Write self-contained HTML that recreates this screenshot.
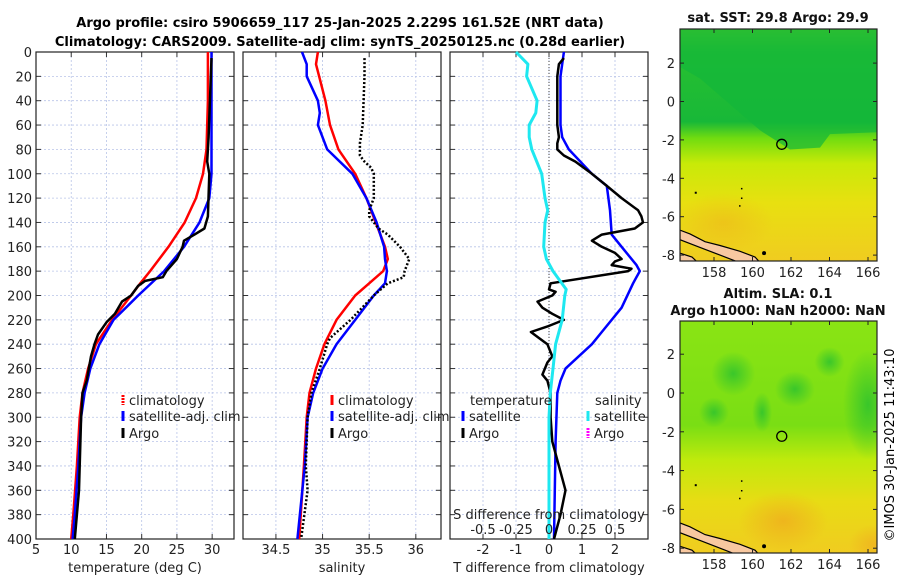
<!DOCTYPE html>
<html><head><meta charset="utf-8"><style>
body{margin:0;background:#fff;}
svg{display:block;font-family:"DejaVu Sans","Liberation Sans",sans-serif;}
</style></head><body>
<svg id="chart" width="900" height="580" viewBox="0 0 900 580" xmlns="http://www.w3.org/2000/svg">
<defs>
<linearGradient id="sstGrad" x1="0" y1="0" x2="0" y2="1">
<stop offset="0" stop-color="#60d020"/><stop offset="0.1" stop-color="#28c030"/><stop offset="0.4" stop-color="#18b838"/>
<stop offset="0.47" stop-color="#70dc10"/><stop offset="0.58" stop-color="#c8ea08"/><stop offset="0.75" stop-color="#e8e010"/><stop offset="1" stop-color="#f0cc20"/>
</linearGradient>
<linearGradient id="slaGrad" x1="0" y1="0" x2="0" y2="1">
<stop offset="0" stop-color="#8ae414"/><stop offset="0.45" stop-color="#7ade14"/><stop offset="0.6" stop-color="#c0ea0c"/><stop offset="0.78" stop-color="#e8dc14"/><stop offset="1" stop-color="#f0cc20"/>
</linearGradient>
<radialGradient id="orangeSpot"><stop offset="0" stop-color="#f0a020"/><stop offset="1" stop-color="#f0a020" stop-opacity="0"/></radialGradient>
<radialGradient id="greenSpot"><stop offset="0" stop-color="#28c030"/><stop offset="1" stop-color="#28c030" stop-opacity="0"/></radialGradient>
<clipPath id="clipTop"><rect x="680" y="29" width="197" height="232"/></clipPath>
<clipPath id="clipBot"><rect x="680" y="321" width="197" height="232"/></clipPath>
</defs>
<text x="340" y="27" font-size="13" font-weight="bold" text-anchor="middle">Argo profile: csiro 5906659_117 25-Jan-2025 2.229S 161.52E (NRT data)</text>
<text x="340" y="46" font-size="13" font-weight="bold" text-anchor="middle">Climatology: CARS2009. Satellite-adj clim: synTS_20250125.nc (0.28d earlier)</text>
<g id="panels"></g>
<g id="maps"></g>
<text transform="translate(894,445) rotate(-90)" font-size="13" text-anchor="middle">©IMOS 30-Jan-2025 11:43:10</text>
</svg>
<script>
// ---------- data ----------
const depthTicks = [0,20,40,60,80,100,120,140,160,180,200,220,240,260,280,300,320,340,360,380,400];
const tempTicks = [5,10,15,20,25,30];
const salTicks = [34.5,35,35.5,36];
const tdiffTicks = [-2,-1,0,1,2];
const sdiffTicks = [-0.5,-0.25,0,0.25,0.5];
const sdiffTickLabels = ["-0.5","-0.25","0","0.25","0.5"];

const climTempDepth = [0,40,80,100,120,140,160,180,190,200,220,240,260,280,300,340,380,400];
const climTemp      = [29.4,29.4,29.2,28.7,27.7,26.1,23.8,21.2,19.8,18.5,15.8,13.5,12.4,11.6,11.2,10.8,10.3,10.0];
const satTempDepth = [0,100,120,140,160,180,200,220,240,260,280,300,340,380,400];
const satTemp      = [29.9,29.9,29.6,28.2,26.0,23.2,19.5,16.0,14.0,12.7,11.9,11.4,11.0,10.5,10.2];
const argoTempDepth = [5,70,90,100,135,145,150,155,160,170,180,185,188,192,200,205,215,222,232,240,250,270,280,300,340,360,380,400];
const argoTemp      = [29.9,29.5,29.3,29.6,29.4,28.9,27.5,26.0,25.8,25.0,23.5,23.0,20.5,19.5,18.5,17.2,16.2,15.0,13.8,13.3,12.8,12.2,11.6,11.4,11.2,11.1,10.8,10.5];

const climSalDepth = [0,10,40,60,80,100,120,140,160,170,180,190,200,220,240,260,280,300,340,400];
const climSal      = [34.95,34.93,35.03,35.08,35.17,35.35,35.47,35.57,35.67,35.70,35.65,35.50,35.35,35.15,35.02,34.93,34.86,34.83,34.80,34.75];
const satSalDepth = [0,10,20,40,50,60,80,100,120,140,160,170,180,190,200,220,240,260,280,300,340,400];
const satSal      = [34.78,34.83,34.83,34.95,34.97,34.95,35.05,35.32,35.47,35.58,35.66,35.67,35.69,35.67,35.55,35.35,35.15,35.00,34.90,34.84,34.81,34.73];
const argoSalDepth = [5,20,40,60,75,85,90,95,100,120,130,135,145,150,160,170,180,185,190,200,220,235,240,260,280,300,340,360,400];
const argoSal      = [35.45,35.45,35.44,35.43,35.40,35.40,35.45,35.52,35.55,35.55,35.50,35.50,35.60,35.70,35.83,35.93,35.88,35.87,35.70,35.55,35.30,35.08,35.05,34.97,34.88,34.84,34.82,34.84,34.77];

const satTdiffDepth = [0,20,60,70,80,100,110,130,150,160,175,180,190,210,230,240,260,270,280,320,400];
const satTdiff      = [0.45,0.35,0.35,0.4,0.6,1.3,1.75,1.85,1.9,2.2,2.65,2.75,2.55,2.2,1.6,1.3,0.5,0.35,0.25,0.2,0.15];
const argoTdiffDepth = [5,10,20,60,70,75,80,85,90,100,110,120,130,135,140,145,150,155,160,165,170,172,175,178,180,190,195,197,200,205,210,215,220,225,230,235,240,250,255,265,270,280,300,320,340,360,380,400];
const argoTdiff      = [0.45,0.3,0.25,0.25,0.3,0.25,0.25,0.45,0.8,1.3,1.75,2.2,2.7,2.8,2.85,2.6,1.6,1.3,1.6,2.0,2.2,2.0,1.9,2.5,2.4,0.05,0.0,0.2,0.1,-0.35,-0.2,0.1,0.45,0.0,-0.55,-0.3,-0.05,0.1,-0.05,-0.2,-0.05,0.05,0.05,0.1,0.3,0.5,0.35,0.15];
const satSdiffDepth = [0,10,20,40,50,60,70,80,100,120,130,140,160,170,180,195,200,220,240,260,280,300,400];
const satSdiff      = [-0.25,-0.16,-0.17,-0.09,-0.1,-0.15,-0.15,-0.13,-0.055,-0.03,-0.01,-0.03,-0.04,-0.02,0.03,0.13,0.12,0.1,0.05,0.03,0.01,0.0,0.0];

const latTicks = [2,0,-2,-4,-6,-8];
const lonTicks = [158,160,162,164,166];
const argoLon = 161.52, argoLat = -2.229;

// ---------- helpers ----------
const NS='http://www.w3.org/2000/svg';
function mk(tag, attrs, parent){const e=document.createElementNS(NS,tag);for(const k in attrs)e.setAttribute(k,attrs[k]);parent.appendChild(e);return e;}
const panelsG=document.getElementById('panels');
const Y0=52, Y1=539;
const yD = d => Y0 + (d/400)*(Y1-Y0);

function panel(x0,x1,xmin,xmax,ticks,labels,name,xlabel,showY){
  const sx = v => x0 + (v-xmin)/(xmax-xmin)*(x1-x0);
  const g=mk('g',{},panelsG);
  
  
  depthTicks.forEach(d=>{
    const l=mk('line',{x1:x0,x2:x1,y1:yD(d),y2:yD(d),stroke:'#b8c4e8','stroke-width':0.8,'stroke-dasharray':'2,2'},g);
    
    
    mk('line',{x1:x0,x2:x0+5,y1:yD(d),y2:yD(d),stroke:'#333'},g);
    mk('line',{x1:x1-5,x2:x1,y1:yD(d),y2:yD(d),stroke:'#333'},g);
    if(showY){const t=mk('text',{x:x0-4,y:yD(d)+5,'font-size':13,'text-anchor':'end',fill:'#222'},g);t.textContent=d;
      
      }
  });
  ticks.forEach((v,i)=>{
    const l=mk('line',{x1:sx(v),x2:sx(v),y1:Y0,y2:Y1,stroke:'#b8c4e8','stroke-width':0.8,'stroke-dasharray':'2,2'},g);
    
    
    mk('line',{x1:sx(v),x2:sx(v),y1:Y1-5,y2:Y1,stroke:'#333'},g);
    mk('line',{x1:sx(v),x2:sx(v),y1:Y0,y2:Y0+5,stroke:'#333'},g);
    const t=mk('text',{x:sx(v),y:Y1+15,'font-size':13,'text-anchor':'middle',fill:'#222'},g);t.textContent=labels[i];
    
    
  });
  mk('rect',{x:x0,y:Y0,width:x1-x0,height:Y1-Y0,fill:'none',stroke:'#222','stroke-width':1.2},g);
  const xl=mk('text',{x:(x0+x1)/2,y:Y1+33,'font-size':13,'text-anchor':'middle',fill:'#222'},g);xl.textContent=xlabel;
  
  
  return {g,sx};
}
function series(p,vals,depths,color,w,name,dash){
  const pts=vals.map((v,i)=>p.sx(v).toFixed(1)+','+yD(depths[i]).toFixed(1)).join(' ');
  const a={points:pts,fill:'none',stroke:color,'stroke-width':w,'stroke-linejoin':'round'};
  if(dash)a['stroke-dasharray']=dash;
  const e=mk('polyline',a,p.g);
  
  
}
function legendEntry(g,x,y,color,label,dash){
  const l=mk('line',{x1:x,x2:x,y1:y-10,y2:y,stroke:color,'stroke-width':3},g);
  if(dash)l.setAttribute('stroke-dasharray',dash);
  const t=mk('text',{x:x+6,y:y,'font-size':13,fill:'#222'},g);t.textContent=label;
  
  
}

const p1=panel(36,234,5,33.1,tempTicks,tempTicks.map(String),'temperature-panel','temperature (deg C)',true);
series(p1,climTemp,climTempDepth,'#f00',2.5,'climatology-temp-line');
series(p1,satTemp,satTempDepth,'#00f',2.5,'satellite-temp-line');
series(p1,argoTemp,argoTempDepth,'#000',2.5,'argo-temp-line');
legendEntry(p1.g,123,405,'#f00','climatology','2,1');
legendEntry(p1.g,123,421,'#00f','satellite-adj. clim');
legendEntry(p1.g,123,438,'#000','Argo');

const p2=panel(243,441,34.147,36.27,salTicks,salTicks.map(String),'salinity-panel','salinity',false);
series(p2,climSal,climSalDepth,'#f00',2.5,'climatology-salinity-line');
series(p2,satSal,satSalDepth,'#00f',2.5,'satellite-salinity-line');
series(p2,argoSal,argoSalDepth,'#000',2.5,'argo-salinity-line','2,2');
legendEntry(p2.g,332,405,'#f00','climatology');
legendEntry(p2.g,332,421,'#00f','satellite-adj. clim');
legendEntry(p2.g,332,438,'#000','Argo');

const p3=panel(450,648,-3,3,tdiffTicks,tdiffTicks.map(String),'difference-panel','T difference from climatology',false);
const sxS = v => 549 + v*132;
mk('line',{x1:549,x2:549,y1:Y0,y2:Y1,stroke:'#444','stroke-width':1,'stroke-dasharray':'1,2'},p3.g);
series(p3,satTdiff,satTdiffDepth,'#00f',2.5,'satellite-tdiff-line');
series(p3,argoTdiff,argoTdiffDepth,'#000',2.5,'argo-tdiff-line');
{
  const pts=satSdiff.map((v,i)=>sxS(v).toFixed(1)+','+yD(satSdiffDepth[i]).toFixed(1)).join(' ');
  const e=mk('polyline',{points:pts,fill:'none',stroke:'#1ee8f0','stroke-width':3,'stroke-linejoin':'round'},p3.g);
  
  
}
{
  const t=mk('text',{x:549,y:519,'font-size':13,'text-anchor':'middle',fill:'#222'},p3.g);t.textContent='S difference from climatology';
  
  
  sdiffTicks.forEach((v,i)=>{const s=mk('text',{x:sxS(v),y:534,'font-size':13,'text-anchor':'middle',fill:'#222'},p3.g);s.textContent=sdiffTickLabels[i];
    
    });
  const h1=mk('text',{x:470,y:405,'font-size':13,fill:'#222'},p3.g);h1.textContent='temperature';
  
  
  const h2=mk('text',{x:595,y:405,'font-size':13,fill:'#222'},p3.g);h2.textContent='salinity';
  
  
  legendEntry(p3.g,463,421,'#00f','satellite');
  legendEntry(p3.g,463,438,'#000','Argo');
  legendEntry(p3.g,588,421,'#1ee8f0','satellite');
  legendEntry(p3.g,588,438,'#f0f','Argo','2,1');
}

// ---------- maps ----------
const mapsG=document.getElementById('maps');
function map(y0,y1,lat0y,pxPerDeg,name,title,grad,clip,extra){
  const x0=680,x1=877;
  const sx = lon => 714 + (lon-158)*19.25;
  const sy = lat => lat0y - lat*pxPerDeg;
  const g=mk('g',{},mapsG);
  
  
  const inner=mk('g',{'clip-path':'url(#'+clip+')'},g);
  mk('rect',{x:x0,y:y0,width:x1-x0,height:y1-y0,fill:'url(#'+grad+')'},inner);
  extra(inner,sx,sy);
  const c=mk('path',{d:`M680 ${sy(-6.7)} L690 ${sy(-6.9)} L705 ${sy(-7.3)} L720 ${sy(-7.5)} L740 ${sy(-7.8)} L755 ${sy(-8.1)} L762 ${sy(-8.5)} L740 ${sy(-8.4)} L720 ${sy(-8.0)} L700 ${sy(-7.6)} L680 ${sy(-7.2)} Z M680 ${sy(-7.9)} L692 ${sy(-8.1)} L700 ${sy(-8.5)} L680 ${sy(-8.5)} Z`,fill:'#f8c8a0',stroke:'#000','stroke-width':1.2},inner);
  
  
  mk('circle',{cx:sx(160.6),cy:sy(-7.9),r:2,fill:'#000'},inner);
  mk('rect',{x:sx(157),y:sy(-4.7),width:2,height:2,fill:'#000'},inner);
  mk('rect',{x:sx(159.4),y:sy(-4.5),width:1.5,height:1.5,fill:'#000'},inner);
  mk('rect',{x:sx(159.4),y:sy(-5.0),width:1.5,height:1.5,fill:'#000'},inner);
  mk('rect',{x:sx(159.3),y:sy(-5.4),width:1.5,height:1.5,fill:'#000'},inner);
  const m=mk('circle',{cx:sx(argoLon),cy:sy(argoLat),r:5,fill:'none',stroke:'#000','stroke-width':1.3},g);
  
  
  mk('rect',{x:x0,y:y0,width:x1-x0,height:y1-y0,fill:'none',stroke:'#222','stroke-width':1.2},g);
  latTicks.forEach(v=>{
    mk('line',{x1:x0,x2:x0+4,y1:sy(v),y2:sy(v),stroke:'#222'},g);
    mk('line',{x1:x1-4,x2:x1,y1:sy(v),y2:sy(v),stroke:'#222'},g);
    const t=mk('text',{x:x0-5,y:sy(v)+5,'font-size':13,'text-anchor':'end',fill:'#222'},g);t.textContent=v;
    
    
  });
  lonTicks.forEach(v=>{
    mk('line',{x1:sx(v),x2:sx(v),y1:y1-4,y2:y1,stroke:'#222'},g);
    mk('line',{x1:sx(v),x2:sx(v),y1:y0,y2:y0+4,stroke:'#222'},g);
    const t=mk('text',{x:sx(v),y:y1+16,'font-size':13,'text-anchor':'middle',fill:'#222'},g);t.textContent=v;
    
    
  });
  title.forEach(s=>{
    const t=mk('text',{x:778,y:s[1],'font-size':13,'font-weight':'bold','text-anchor':'middle',fill:'#111'},g);t.textContent=s[0];
    
    
  });
}
map(29,261,101.5,19.2,'sst-map',[['sat. SST: 29.8 Argo: 29.9',22]],'sstGrad','clipTop',(g,sx,sy)=>{
  mk('path',{d:`M680 ${sy(1.8)} L700 ${sy(1.2)} L720 ${sy(0.3)} L740 ${sy(-0.6)} L760 ${sy(-1.5)} L790 ${sy(-2.5)} L820 ${sy(-2.4)} L830 ${sy(-1.7)} L877 ${sy(-1.6)} L877 ${sy(4)} L680 ${sy(4)} Z`,fill:'#12b63a',opacity:0.7},g);
  mk('ellipse',{cx:sx(158.5),cy:sy(-6.3),rx:50,ry:30,fill:'url(#orangeSpot)',opacity:0.35},g);
});
map(321,553,393,19.4,'sla-map',[['Altim. SLA: 0.1',298],['Argo h1000: NaN h2000: NaN',315]],'slaGrad','clipBot',(g,sx,sy)=>{
  [[159,1,22,22],[162.2,0.2,20,18],[160.5,-1,10,20],[166,-0.6,25,55],[164,1.6,15,15],[158,-1,15,15]].forEach(s=>{
    mk('ellipse',{cx:sx(s[0]),cy:sy(s[1]),rx:s[2],ry:s[3],fill:'url(#greenSpot)',opacity:0.8},g);
  });
  mk('ellipse',{cx:sx(161.6),cy:sy(-6.6),rx:45,ry:30,fill:'url(#orangeSpot)',opacity:0.6},g);
  mk('ellipse',{cx:sx(166.3),cy:sy(-7.8),rx:25,ry:20,fill:'url(#orangeSpot)',opacity:0.5},g);
});
</script>
</body></html>
